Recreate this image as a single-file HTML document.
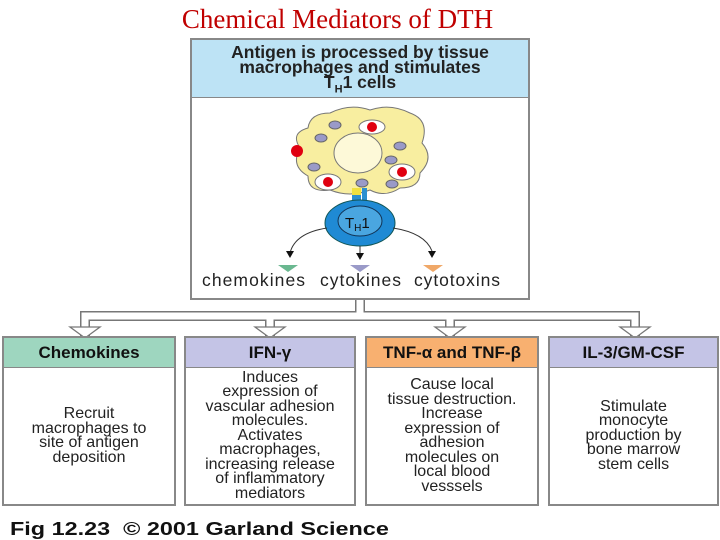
<!DOCTYPE html>
<html><head><style>
body{margin:0;width:720px;height:540px;background:#fff;position:relative;overflow:hidden;font-family:"Liberation Sans",sans-serif;}
.t{position:absolute;left:0;width:675px;top:4px;text-align:center;font-family:"Liberation Serif",serif;color:#c00000;font-size:27px;}
.box{position:absolute;border:2px solid #888;background:#fff;box-sizing:border-box;}
.hd{position:absolute;left:0;right:0;top:0;height:29px;border-bottom:1px solid #888;font-weight:bold;font-size:17px;text-align:center;line-height:29px;color:#111;}
.bd{position:absolute;left:-10px;right:-10px;top:30px;bottom:0;display:flex;align-items:center;justify-content:center;text-align:center;font-size:16px;line-height:14.5px;color:#222;}
</style></head><body>
<div class="t">Chemical Mediators of DTH</div>
<div class="box" style="left:190px;top:38px;width:340px;height:262px;">
<div style="position:absolute;left:-10px;right:-10px;top:0;height:57px;text-align:center;font-weight:bold;font-size:17.5px;line-height:15px;padding-top:5px;box-sizing:border-box;color:#222;z-index:2">Antigen is processed by tissue<br>macrophages and stimulates<br>T<sub style="font-size:11px">H</sub>1 cells</div>
<div style="position:absolute;left:0;right:0;top:0;height:57px;background:#bde3f5;border-bottom:1px solid #888;"></div>
<svg style="position:absolute;left:-2px;top:-2px" width="340" height="262">
<g transform="translate(0,10)">
<path d="M140 65 Q160 55 180 62 Q200 55 220 65 Q240 72 232 95 Q245 110 230 125 Q230 140 210 140 Q195 150 180 142 Q160 150 140 142 Q118 145 118 128 Q100 118 110 100 Q100 85 118 80 Q120 65 140 65Z" fill="#f8eea0" stroke="#777"/>
<ellipse cx="168" cy="105" rx="24" ry="20" fill="#fdf9d8" stroke="#777"/>
<g fill="#9a9ac8" stroke="#666"><ellipse cx="145" cy="77" rx="6" ry="4"/><ellipse cx="131" cy="90" rx="6" ry="4"/><ellipse cx="210" cy="98" rx="6" ry="4"/><ellipse cx="201" cy="112" rx="6" ry="4"/><ellipse cx="124" cy="119" rx="6" ry="4"/><ellipse cx="172" cy="135" rx="6" ry="4"/><ellipse cx="202" cy="136" rx="6" ry="4"/></g>
<g fill="#fff" stroke="#777"><ellipse cx="182" cy="79" rx="13" ry="7"/><ellipse cx="212" cy="124" rx="13" ry="8"/><ellipse cx="138" cy="134" rx="13" ry="8"/></g>
<g fill="#e00010"><circle cx="182" cy="79" r="5"/><circle cx="212" cy="124" r="5"/><circle cx="138" cy="134" r="5"/><circle cx="107" cy="103" r="6"/></g>
</g>
<rect x="162" y="150" width="9" height="16" fill="#2b8fd0"/><rect x="162" y="150" width="9" height="7" fill="#f0e040"/><rect x="172" y="150" width="5" height="16" fill="#2b8fd0"/>
<ellipse cx="170" cy="185" rx="35" ry="23" fill="#1f8ad4" stroke="#155"/>
<ellipse cx="170" cy="183" rx="22" ry="15" fill="#4aa6e0" stroke="#135"/>
<text x="155" y="190" font-size="15" font-family="Liberation Sans" fill="#111">T<tspan font-size="10" dy="3">H</tspan><tspan dy="-3">1</tspan></text>
<path d="M137 190 Q105 195 100 215" fill="none" stroke="#333"/><path d="M96 213 L104 213 L100 220Z" fill="#111"/>
<path d="M170 208 V217" stroke="#333"/><path d="M166 215 L174 215 L170 222Z" fill="#111"/>
<path d="M203 190 Q235 195 242 213" fill="none" stroke="#333"/><path d="M238 213 L246 213 L242 220Z" fill="#111"/>
<path d="M88 227 L108 227 L98 234Z" fill="#6ab890"/><path d="M160 227 L180 227 L170 234Z" fill="#9a9ac8"/><path d="M233 227 L253 227 L243 234Z" fill="#f0a868"/>
<text x="12" y="248" font-size="17.5" font-family="Liberation Sans" fill="#222" textLength="103">chemokines</text>
<text x="130" y="248" font-size="17.5" font-family="Liberation Sans" fill="#222" textLength="81">cytokines</text>
<text x="224" y="248" font-size="17.5" font-family="Liberation Sans" fill="#222" textLength="86">cytotoxins</text>
</svg></div>
<svg style="position:absolute;left:0;top:0" width="720" height="540">
<g fill="none" stroke-linejoin="miter">
<path d="M360 300 V316 M85 336 V316 H635 V336 M270 336 V316 M450 336 V316" stroke="#777" stroke-width="10"/>
<path d="M360 300 V316 M85 336 V316 H635 V336 M270 336 V316 M450 336 V316" stroke="#fff" stroke-width="7"/>
</g>
<g fill="#fff" stroke="#777" stroke-width="1.3">
<path d="M70 327 H100 L85 338Z"/><path d="M255 327 H285 L270 338Z"/><path d="M435 327 H465 L450 338Z"/><path d="M620 327 H650 L635 338Z"/>
</g>
</svg>
<div class="box" style="left:2px;top:336px;width:174px;height:170px"><div class="hd" style="background:#9ed6bf">Chemokines</div><div class="bd">Recruit<br>macrophages to<br>site of antigen<br>deposition</div></div>
<div class="box" style="left:184px;top:336px;width:172px;height:170px"><div class="hd" style="background:#c4c4e6">IFN-γ</div><div class="bd">Induces<br>expression of<br>vascular adhesion<br>molecules.<br>Activates<br>macrophages,<br>increasing release<br>of inflammatory<br>mediators</div></div>
<div class="box" style="left:365px;top:336px;width:174px;height:170px"><div class="hd" style="background:#f8b070">TNF-α and TNF-β</div><div class="bd">Cause local<br>tissue destruction.<br>Increase<br>expression of<br>adhesion<br>molecules on<br>local blood<br>vesssels</div></div>
<div class="box" style="left:548px;top:336px;width:171px;height:170px"><div class="hd" style="background:#c4c4e6">IL-3/GM-CSF</div><div class="bd">Stimulate<br>monocyte<br>production by<br>bone marrow<br>stem cells</div></div>
<div style="position:absolute;left:10px;top:519px;font-weight:bold;font-size:18px;color:#111;transform:scaleX(1.3);transform-origin:left;white-space:nowrap">Fig 12.23 &nbsp;© 2001 Garland Science</div>
</body></html>
